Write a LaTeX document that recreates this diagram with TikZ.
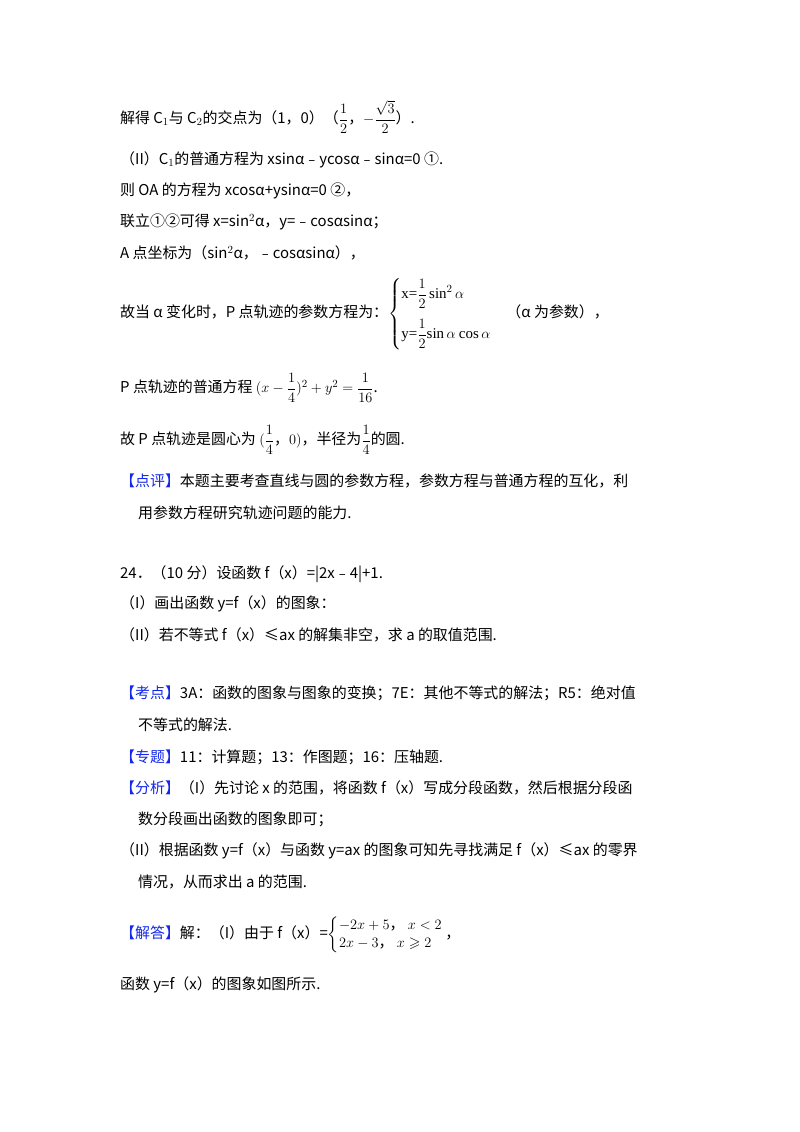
\documentclass[tikz,border=0pt]{standalone}
\usepackage{fontspec}
\usepackage{amsmath}
\usepackage{amssymb}
\setmainfont{Noto Sans CJK SC}
\newfontfamily\lat{Liberation Serif}
\definecolor{hb}{RGB}{20,40,235}
\begin{document}
\begin{tikzpicture}[x=1bp,y=-1bp,
  t/.style={anchor=west,inner sep=0pt,font=\fontsize{15}{18}\selectfont}]
\useasboundingbox[fill=white] (0,0) rectangle (800,1132);
\node[t] (l1) at (120,117) {解得 C$_1$与 C$_2$的交点为（1，0）（$\dfrac12$，$-\dfrac{\sqrt3}{2}$）.};
\node[t] (l2) at (120,160) {（II）C$_1$的普通方程为 xsinα﹣ycosα﹣sinα=0 ①.};
\node[t] (l3) at (120,191) {则 OA 的方程为 xcosα+ysinα=0 ②，};
\node[t] (l4) at (120,222) {联立①②可得 x=sin$^2$α，y=﹣cosαsinα；};
\node[t] (l5) at (120,253) {A 点坐标为（sin$^2$α，﹣cosαsinα），};
\node[t] (l6) at (120,314) {故当 α 变化时，P 点轨迹的参数方程为：$\left\{\begin{array}{@{}l@{}}\text{\lat x=}\dfrac12\text{\lat\,sin}^2\,\alpha\\[16pt] \text{\lat y=}\dfrac12\text{\lat sin}\,\alpha\ \text{\lat cos}\,\alpha\end{array}\right.$\quad（α 为参数），};
\node[t] (l7) at (120,388) {P 点轨迹的普通方程 $(x-\dfrac14)^2+y^2=\dfrac1{16}$.};
\node[t] (l8) at (120,440) {故 P 点轨迹是圆心为 $(\dfrac14$，$0)$，半径为$\dfrac14$的圆.};
\node[t] (l9) at (120,481) {\textcolor{hb}{【点评】}本题主要考查直线与圆的参数方程，参数方程与普通方程的互化，利};
\node[t] (l10) at (138,513) {用参数方程研究轨迹问题的能力.};
\node[t] (l11) at (120,574) {24．（10 分）设函数 f（x）=|2x﹣4|+1.};
\node[t] (l12) at (120,604) {（I）画出函数 y=f（x）的图象：};
\node[t] (l13) at (120,635) {（II）若不等式 f（x）≤ax 的解集非空，求 a 的取值范围.};
\node[t] (l14) at (120,693) {\textcolor{hb}{【考点】}3A：函数的图象与图象的变换；7E：其他不等式的解法；R5：绝对值};
\node[t] (l15) at (138,725) {不等式的解法.};
\node[t] (l16) at (120,757) {\textcolor{hb}{【专题】}11：计算题；13：作图题；16：压轴题.};
\node[t] (l17) at (120,788) {\textcolor{hb}{【分析】}（I）先讨论 x 的范围，将函数 f（x）写成分段函数，然后根据分段函};
\node[t] (l18) at (138,819) {数分段画出函数的图象即可；};
\node[t] (l19) at (120,851) {（II）根据函数 y=f（x）与函数 y=ax 的图象可知先寻找满足 f（x）≤ax 的零界};
\node[t] (l20) at (138,882) {情况，从而求出 a 的范围.};
\node[t] (l21) at (120,935) {\textcolor{hb}{【解答】}解：（I）由于 f（x）=$\left\{\begin{array}{@{}l@{}}-2x+5\text{，}\ x<2\\ 2x-3\text{，}\ x\geqslant 2\end{array}\right.$\,，};
\node[t] (l22) at (120,985) {函数 y=f（x）的图象如图所示.};
\end{tikzpicture}
\end{document}
